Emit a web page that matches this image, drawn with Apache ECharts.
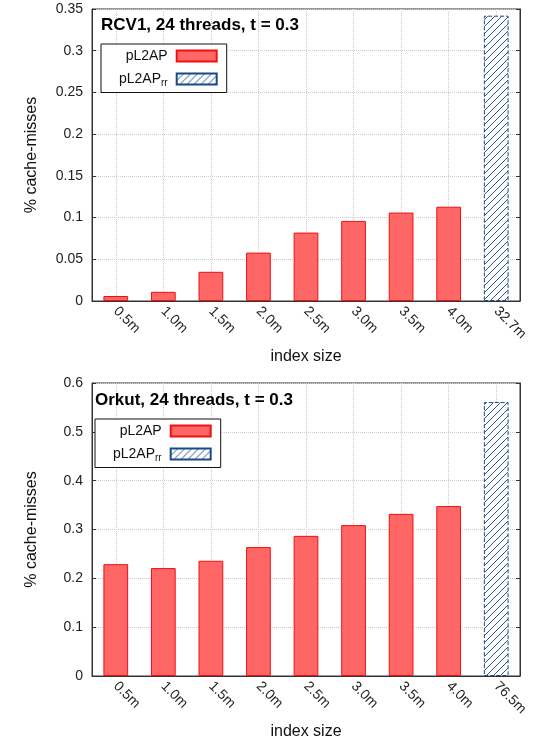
<!DOCTYPE html>
<html>
<head>
  <meta charset="UTF-8">
  <title>cache misses</title>
  <style>
    html, body { margin: 0; padding: 0; background: #fff; }
    #chart { width: 536px; height: 743px; }
  </style>
  <script src="https://cdn.jsdelivr.net/npm/echarts@6/dist/echarts.min.js"></script>
</head>
<body>
<div id="chart"></div>
<script>
  // data
  var rcvSizes = ['0.5m', '1.0m', '1.5m', '2.0m', '2.5m', '3.0m', '3.5m', '4.0m', '32.7m'];
  var rcvL2ap = [0.006, 0.011, 0.035, 0.058, 0.082, 0.096, 0.106, 0.113, '-'];
  var rcvRr = ['-', '-', '-', '-', '-', '-', '-', '-', 0.342];

  var orkutSizes = ['0.5m', '1.0m', '1.5m', '2.0m', '2.5m', '3.0m', '3.5m', '4.0m', '76.5m'];
  var orkutL2ap = [0.229, 0.221, 0.236, 0.264, 0.287, 0.309, 0.332, 0.348, '-'];
  var orkutRr = ['-', '-', '-', '-', '-', '-', '-', '-', 0.561];

  var font = 'Liberation Sans, Arial, sans-serif';

  // hatched fill for the rr bars
  function hatch() {
    var c = document.createElement('canvas');
    c.width = 7; c.height = 7;
    var g = c.getContext('2d');
    g.fillStyle = '#fff';
    g.fillRect(0, 0, 7, 7);
    g.strokeStyle = '#2a5a96';
    g.lineWidth = 1;
    g.beginPath();
    g.moveTo(-1, 8); g.lineTo(8, -1);
    g.moveTo(-1, 1); g.lineTo(1, -1);
    g.moveTo(6, 8); g.lineTo(8, 6);
    g.stroke();
    return c;
  }
  var hatchImg = hatch();

  // helper axis: 19 slots, odd ones fall on the bar centres (for the vertical grid)
  var halfSlots = [];
  for (var i = 0; i < 19; i++) halfSlots.push('');

  var myChart = echarts.init(document.getElementById('chart'));

  function xAxis(idx, cats) {
    return {
      type: 'category',
      gridIndex: idx,
      data: cats,
      name: 'index size',
      nameLocation: 'middle',
      nameGap: 48,
      nameTextStyle: { fontFamily: font, fontSize: 16, color: '#111' },
      axisLine: { show: true, lineStyle: { color: '#333' } },
      axisTick: { show: true, inside: true, alignWithLabel: true, length: 4, lineStyle: { color: '#333' } },
      axisLabel: { rotate: -45, fontFamily: font, fontSize: 14, color: '#222', margin: 8 },
      splitLine: { show: false }
    };
  }

  function gridX(idx) {
    return {
      type: 'category',
      gridIndex: idx,
      data: halfSlots,
      boundaryGap: false,
      position: 'top',
      axisLine: { show: false },
      axisTick: { show: false },
      axisLabel: { show: false },
      splitLine: {
        show: true,
        interval: function (index) { return index % 2 === 1; },
        lineStyle: { color: '#ccc', type: 'dotted' }
      }
    };
  }

  function yAxis(idx, max, step, right) {
    return {
      type: 'value',
      gridIndex: idx,
      position: right ? 'right' : 'left',
      min: 0,
      max: max,
      interval: step,
      name: right ? '' : '% cache-misses',
      nameLocation: 'middle',
      nameGap: 52,
      nameTextStyle: { fontFamily: font, fontSize: 16, color: '#111' },
      axisLine: { show: true, lineStyle: { color: '#333' } },
      axisTick: { show: true, inside: true, length: 4, lineStyle: { color: '#333' } },
      axisLabel: { show: !right, fontFamily: font, fontSize: 14, color: '#222', margin: 9 },
      splitLine: { show: !right, lineStyle: { color: '#ccc', type: 'dotted' } }
    };
  }

  function legend(left, top) {
    return {
      orient: 'vertical',
      left: left,
      top: top,
      align: 'right',
      icon: 'rect',
      itemWidth: 40,
      itemHeight: 11,
      itemGap: 9,
      padding: [5, 9, 4, 18],
      borderColor: '#111',
      borderWidth: 1,
      backgroundColor: '#fff',
      selectedMode: false,
      data: ['pL2AP', 'pL2AP_rr'],
      textStyle: {
        fontFamily: font, fontSize: 14, color: '#111',
        padding: [0, 4, 0, 0],
        rich: { sub: { fontFamily: font, fontSize: 10, color: '#111', padding: [9, 0, 0, 0] } }
      },
      formatter: function (name) {
        return name === 'pL2AP_rr' ? 'pL2AP{sub|rr}' : name;
      }
    };
  }

  function series(idx, l2ap, rr) {
    return [{
      name: 'pL2AP',
      type: 'bar',
      xAxisIndex: idx * 2,
      yAxisIndex: idx * 2,
      barWidth: '52%',
      barGap: '-100%',
      itemStyle: { color: '#ff6666', borderColor: '#f01010', borderWidth: 1 },
      data: l2ap
    }, {
      name: 'pL2AP_rr',
      type: 'bar',
      xAxisIndex: idx * 2,
      yAxisIndex: idx * 2,
      barWidth: '52%',
      barGap: '-100%',
      itemStyle: {
        color: { image: hatchImg, repeat: 'repeat' },
        borderColor: '#1a4a85', borderWidth: 1, borderType: 'dashed'
      },
      data: rr
    }];
  }

  var option = {
    animation: false,
    title: [{
      text: 'RCV1, 24 threads, t = 0.3',
      left: 96, top: 12,
      textStyle: { fontFamily: font, fontSize: 17, fontWeight: 'bold', color: '#000' }
    }, {
      text: 'Orkut, 24 threads, t = 0.3',
      left: 90, top: 387,
      textStyle: { fontFamily: font, fontSize: 17, fontWeight: 'bold', color: '#000' }
    }],
    legend: [legend(101, 44), legend(95, 419)],
    grid: [
      { left: 92, right: 16, top: 9, height: 292, show: true, borderColor: '#333', borderWidth: 1 },
      { left: 92, right: 16, top: 383, height: 293, show: true, borderColor: '#333', borderWidth: 1 }
    ],
    xAxis: [xAxis(0, rcvSizes), gridX(0), xAxis(1, orkutSizes), gridX(1)],
    yAxis: [
      yAxis(0, 0.35, 0.05, false), yAxis(0, 0.35, 0.05, true),
      yAxis(1, 0.6, 0.1, false), yAxis(1, 0.6, 0.1, true)
    ],
    series: series(0, rcvL2ap, rcvRr).concat(series(1, orkutL2ap, orkutRr))
  };

  myChart.setOption(option);
</script>
</body>
</html>
